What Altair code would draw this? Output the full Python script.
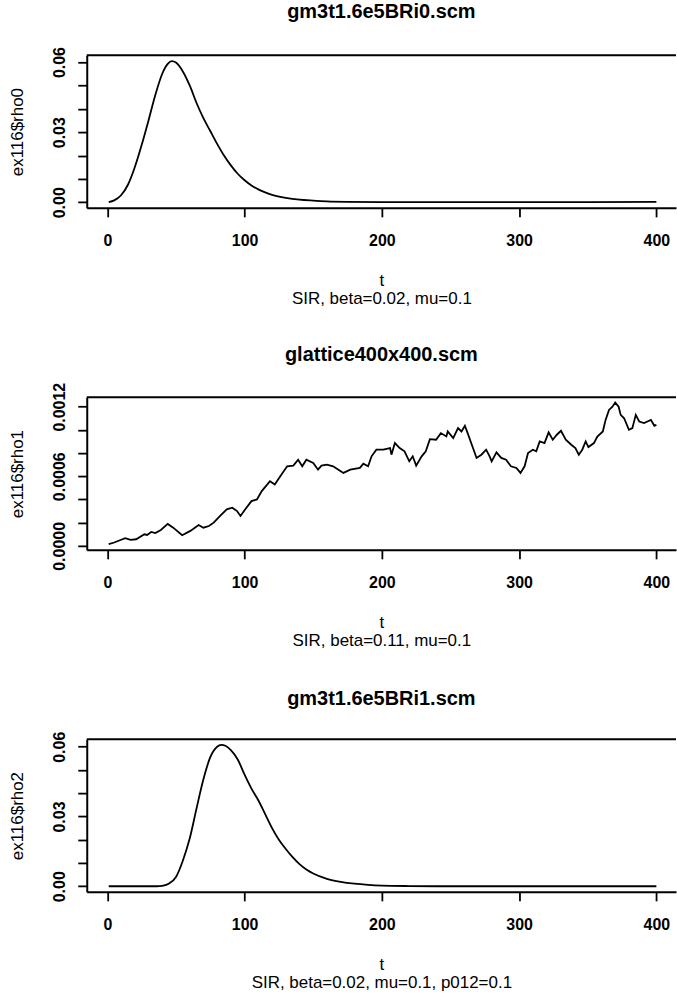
import altair as alt
import pandas as pd

# ---------------- data ----------------
titles = ["gm3t1.6e5BRi0.scm", "glattice400x400.scm", "gm3t1.6e5BRi1.scm"]
ylabels = ["ex116$rho0", "ex116$rho1", "ex116$rho2"]
subtitles = ["SIR, beta=0.02, mu=0.1", "SIR, beta=0.11, mu=0.1",
             "SIR, beta=0.02, mu=0.1, p012=0.1"]

x_ticks = [0, 100, 200, 300, 400]
y_ticks_big = [0.00, 0.01, 0.02, 0.03, 0.04, 0.05, 0.06]
y_labels_big = ["0.00", "0.03", "0.06"]
y_ticks_small = [0.0, 0.0002, 0.0004, 0.0006, 0.0008, 0.0010, 0.0012]
y_labels_small = ["0.0000", "0.0006", "0.0012"]

t_rho0 = [1, 5, 10, 15, 20, 25, 30, 35, 40, 44, 47, 50, 55, 60, 65, 70, 75, 80,
          85, 90, 95, 100, 105, 110, 115, 120, 130, 140, 150, 160, 175, 200,
          250, 300, 350, 400]
rho0 = [0.0001, 0.0008, 0.0030, 0.0075, 0.0150, 0.0245, 0.0350, 0.0460, 0.0550,
        0.0592, 0.0604, 0.0598, 0.0560, 0.0500, 0.0425, 0.0360, 0.0305, 0.0250,
        0.0200, 0.0158, 0.0122, 0.0094, 0.0072, 0.0055, 0.0042, 0.0032, 0.0019,
        0.0011, 0.0007, 0.0004, 0.0002, 0.0001, 0.0001, 0.0001, 0.0001, 0.0002]

t_rho1 = [1, 5, 11, 13, 17, 21, 27, 29, 32, 35, 39, 44, 48, 54.5, 60.5, 66.5, 70,
          74, 77.5, 82, 87, 91, 94.5, 97, 100.5, 105, 109, 112.5, 118.5, 122, 126,
          131, 135.5, 139, 142, 145, 150, 153.5, 156, 160, 164.5, 172, 177, 184,
          186.5, 190, 192.5, 196, 201, 206, 207, 209.5, 213, 216.5, 220, 222.5,
          225, 229, 232, 235, 239.5, 243, 247, 248, 252, 255.5, 258, 260.5, 262.5,
          266, 269, 272.5, 276, 278.5, 280, 283.5, 287, 290.5, 294, 298, 301, 304,
          306.5, 310, 312.5, 315, 318.5, 321.5, 324.5, 327.5, 330.5, 334, 338, 341,
          343.5, 346, 348.5, 350.5, 354.5, 357, 361, 363, 365.5, 368, 370, 372.5,
          374, 376.5, 380, 382.5, 385, 387.5, 391, 393.5, 396, 398.5, 400]
rho1 = [0.000015, 0.000029, 0.000057, 0.000066, 0.000051, 0.000057, 0.000100,
        0.000094, 0.000120, 0.000110, 0.000137, 0.000189, 0.000157, 0.000092,
        0.000129, 0.000180, 0.000157, 0.000171, 0.000200, 0.000257, 0.000315,
        0.000329, 0.000300, 0.000257, 0.000315, 0.000386, 0.000400, 0.000472,
        0.000557, 0.000529, 0.000600, 0.000686, 0.000692, 0.000743, 0.000686,
        0.000743, 0.000715, 0.000657, 0.000692, 0.000700, 0.000686, 0.000629,
        0.000657, 0.000672, 0.000709, 0.000686, 0.000772, 0.000829, 0.000829,
        0.000843, 0.000786, 0.000886, 0.000843, 0.000815, 0.000729, 0.000772,
        0.000692, 0.000772, 0.000815, 0.000920, 0.000915, 0.000972, 0.000943,
        0.000986, 0.000929, 0.001015, 0.000986, 0.001035, 0.000972, 0.000857,
        0.000758, 0.000786, 0.000829, 0.000772, 0.000729, 0.000806, 0.000758,
        0.000743, 0.000686, 0.000672, 0.000629, 0.000686, 0.000800, 0.000829,
        0.000815, 0.000900, 0.000886, 0.000978, 0.000915, 0.000958, 0.000992,
        0.000915, 0.000872, 0.000843, 0.000786, 0.000829, 0.000900, 0.000852,
        0.000886, 0.000943, 0.000986, 0.001086, 0.001172, 0.001200, 0.001235,
        0.001200, 0.001129, 0.001100, 0.001000, 0.001015, 0.001129, 0.001072,
        0.001058, 0.001072, 0.001086, 0.001035, 0.001043]

t_rho2 = [1, 10, 20, 30, 36, 40, 45, 50, 55, 60, 65, 70, 75, 80, 83, 86, 90, 95,
          100, 105, 110, 115, 120, 125, 130, 135, 140, 145, 150, 160, 170, 180,
          190, 200, 220, 250, 300, 350, 400]
rho2 = [0.0000, 0.0000, 0.0000, 0.0000, 0.0000, 0.0002, 0.0012, 0.0040, 0.0110,
        0.0205, 0.0335, 0.0460, 0.0555, 0.0600, 0.0608, 0.0604, 0.0585, 0.0545,
        0.0480, 0.0420, 0.0370, 0.0310, 0.0250, 0.0200, 0.0160, 0.0125, 0.0095,
        0.0072, 0.0055, 0.0032, 0.0019, 0.0011, 0.0006, 0.0003, 0.0001, 0.0000,
        0.0000, 0.0000, 0.0000]

# ---------------- layout ----------------
W, H = 591, 153
FONT = "Liberation Sans"
X_DOMAIN = [-15, 414.3]


def panel(t, v, title, ylab, sub, ydom, yticks, ylabs, fmt, interp, title_offset):
    df = pd.DataFrame({"t": t, "v": v})
    items = ",".join("'" + s + "'" for s in ylabs)
    label_expr = (f"indexof([{items}], format(datum.value, '{fmt}')) >= 0 ? "
                  f"format(datum.value, '{fmt}') : ''")
    line = alt.Chart(df).mark_line(color="black", strokeWidth=1.8,
                                   interpolate=interp).encode(
        x=alt.X("t:Q",
                scale=alt.Scale(domain=X_DOMAIN, nice=False, zero=False),
                axis=alt.Axis(values=x_ticks, format="d", title=["t", sub],
                              labelFontSize=16, labelFontWeight="bold",
                              labelPadding=16, labelBaseline="top",
                              labelFlush=False, tickSize=9,
                              titleFontSize=17, titleFontWeight="normal",
                              titleBaseline="top", titleY=65,
                              titleLineHeight=18)),
        y=alt.Y("v:Q",
                scale=alt.Scale(domain=ydom, nice=False, zero=False),
                axis=alt.Axis(values=yticks, labelExpr=label_expr, title=ylab,
                              labelAngle=270, labelAlign="center",
                              labelBaseline="alphabetic", labelPadding=13,
                              labelFontSize=16, labelFontWeight="bold",
                              labelOverlap=False, labelFlush=False, tickSize=9,
                              titleFontSize=17, titleFontWeight="normal",
                              titleAngle=270, titleBaseline="alphabetic",
                              titleAlign="center", titleX=-64, titleY=H / 2)),
    )
    top = alt.Chart(pd.DataFrame({"k": [0]})).mark_rule(
        color="black", strokeWidth=2).encode(
        x=alt.value(0), x2=alt.value(W), y=alt.value(0))
    return alt.layer(line, top).properties(
        width=W, height=H,
        title=alt.TitleParams(title, fontSize=20, fontWeight="bold", font=FONT,
                              anchor="middle", frame="group",
                              baseline="top", offset=title_offset,
                              color="black"))


p1 = panel(t_rho0, rho0, titles[0], ylabels[0], subtitles[0], [-0.0024, 0.0629],
           y_ticks_big, y_labels_big, ".2f", "monotone", 24.5)
p2 = panel(t_rho1, rho1, titles[1], ylabels[1], subtitles[1],
           [-0.0000343, 0.0012806], y_ticks_small, y_labels_small, ".4f",
           "linear", 17)
p3 = panel(t_rho2, rho2, titles[2], ylabels[2], subtitles[2], [-0.0024, 0.0632],
           y_ticks_big, y_labels_big, ".2f", "monotone", 22.5)

chart = alt.vconcat(p1, p2, p3, spacing=190, bounds="flush").properties(
    padding={"left": 9, "top": 0, "right": 0, "bottom": 10},
    background="white",
).configure_view(stroke=None).configure_axis(
    grid=False, domainColor="black", domainWidth=2, tickColor="black",
    tickWidth=1.8, labelColor="black", titleColor="black",
    labelFont=FONT, titleFont=FONT,
)

chart.save("out.html", embed_options={"renderer": "svg", "actions": False})
